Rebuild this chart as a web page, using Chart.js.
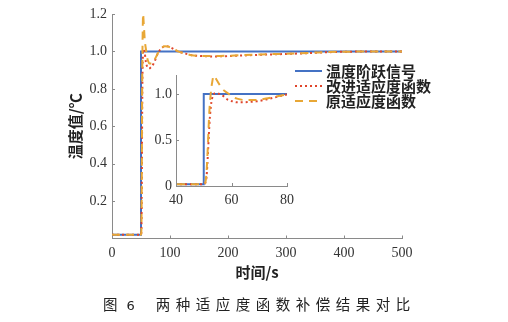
<!DOCTYPE html>
<html>
<head>
<meta charset="utf-8">
<script src="https://cdn.jsdelivr.net/npm/chart.js@4.4.1/dist/chart.umd.min.js"></script>
<style>
  html, body { margin: 0; padding: 0; background: #fff; }
  #wrap { position: relative; width: 508px; height: 322px; }
  #main { position: absolute; left: 0; top: 0; }
  #inset { position: absolute; left: 130px; top: 60px; }
  #caption { position: absolute; left: 103px; top: 293px; font: 400 14.5px "Noto Sans CJK SC"; color: #222; white-space: nowrap; }
  #caption .num { margin-left: 9px; font-family: "DejaVu Sans"; font-size: 13px; }
  #caption .rest { margin-left: 21px; letter-spacing: 5.5px; }
</style>
</head>
<body>
<div id="wrap">
  <canvas id="main" width="508" height="322"></canvas>
  <canvas id="inset" width="170" height="150"></canvas>
  <div id="caption">图<span class="num">6</span><span class="rest">两种适应度函数补偿结果对比</span></div>
</div>
<script>
// step input
const stepTime = [0, 50, 50, 500];
const stepValue = [0.02, 0.02, 1, 1];

// responses (time in s)
const time = [0, 50, 50.5, 51, 51.5, 52, 52.5, 53, 53.6, 54.5, 55.7, 56.5, 58.6, 60.4, 62, 64.6, 67, 69, 72.4, 76.6, 79, 82, 86, 91, 96, 102, 114, 125, 137, 155, 175, 200, 255, 325, 365, 420, 500];
const improved = [0.02, 0.02, 0.03, 0.1, 0.35, 0.65, 0.85, 0.95, 1.0, 1.01, 1.0, 0.99, 0.94, 0.92, 0.91, 0.91, 0.915, 0.92, 0.94, 0.97, 0.99, 1.005, 1.018, 1.028, 1.027, 1.02, 1.0, 0.99, 0.98, 0.975, 0.973, 0.975, 0.982, 0.989, 0.995, 0.999, 1.0];
const original = [0.02, 0.02, 0.03, 0.15, 0.45, 0.8, 1.0, 1.12, 1.2, 1.16, 1.1, 1.06, 1.01, 0.97, 0.95, 0.935, 0.935, 0.935, 0.95, 0.975, 0.99, 1.005, 1.02, 1.027, 1.026, 1.02, 1.0, 0.99, 0.98, 0.976, 0.975, 0.977, 0.984, 0.99, 0.996, 0.999, 1.0];

const seriesNames = ['温度阶跃信号', '改进适应度函数', '原适应度函数'];

const mainXTicks = [0, 100, 200, 300, 400, 500];
const mainYTicks = [0.2, 0.4, 0.6, 0.8, 1.0, 1.2];
const insetXTicks = [40, 60, 80];
const insetYTicks = [0, 0.5, 1.0];

const colors = ['#4472c4', '#e0452b', '#e8a736'];
const dashes = [[], [2, 3], [8, 6]];
const axisColor = '#8a8a8a';
const tickFont = { family: 'Liberation Serif', size: 14 };
const cjkBold = { family: 'Noto Sans CJK SC', size: 15, weight: 'bold' };

function makeDatasets() {
    const series = [
        stepTime.map((t, i) => ({ x: t, y: stepValue[i] })),
        time.map((t, i) => ({ x: t, y: improved[i] })),
        time.map((t, i) => ({ x: t, y: original[i] }))
    ];
    return series.map((data, i) => ({
        label: seriesNames[i],
        data,
        borderColor: colors[i],
        borderWidth: 2,
        borderDash: dashes[i],
        pointRadius: 0,
        cubicInterpolationMode: i === 0 ? 'default' : 'monotone',
        clip: i === 2 ? { top: 8, left: 0, right: 0, bottom: 0 } : undefined,
        order: 3 - i
    }));
}

// tick marks pointing into the plot area
const innerTicks = {
    id: 'innerTicks',
    afterDraw(chart) {
        const { ctx, chartArea: a, scales: { x, y } } = chart;
        ctx.save();
        ctx.strokeStyle = axisColor;
        ctx.lineWidth = 1;
        ctx.beginPath();
        x.ticks.forEach(t => {
            const px = Math.round(x.getPixelForValue(t.value)) + 0.5;
            ctx.moveTo(px, a.bottom);
            ctx.lineTo(px, a.bottom - 3);
        });
        y.ticks.forEach(t => {
            const py = Math.round(y.getPixelForValue(t.value)) + 0.5;
            ctx.moveTo(a.left, py);
            ctx.lineTo(a.left + 3, py);
        });
        ctx.stroke();
        ctx.restore();
    }
};

// legend box inside the main plot
const floatLegend = {
    id: 'floatLegend',
    afterDraw(chart) {
        const { ctx } = chart;
        ctx.save();
        ctx.font = 'bold 15px "Noto Sans CJK SC"';
        ctx.textBaseline = 'middle';
        chart.data.datasets.forEach((ds, i) => {
            const y = 71 + i * 15;
            ctx.strokeStyle = ds.borderColor;
            ctx.lineWidth = 2;
            ctx.setLineDash(ds.borderDash);
            ctx.beginPath();
            ctx.moveTo(295, y);
            ctx.lineTo(322, y);
            ctx.stroke();
            ctx.setLineDash([]);
            ctx.fillStyle = '#222';
            ctx.fillText(ds.label, 326, y);
        });
        ctx.restore();
    }
};

function axis(min, max, ticks, extra) {
    return Object.assign({
        type: 'linear',
        min, max,
        afterBuildTicks: s => { s.ticks = ticks.map(v => ({ value: v })); },
        grid: { display: false, drawTicks: false },
        border: { display: true, color: axisColor, width: 1 },
        ticks: { font: tickFont, color: '#333', padding: 6 }
    }, extra);
}

new Chart(document.getElementById('main'), {
    type: 'line',
    data: { datasets: makeDatasets() },
    options: {
        responsive: false,
        animation: false,
        layout: { padding: { top: 14, right: 106, bottom: 40, left: 0 } },
        plugins: { legend: { display: false }, tooltip: { enabled: false } },
        scales: {
            x: axis(0, 500, mainXTicks, {
                afterFit: s => { s.height = 43.5; },
                title: { display: true, text: '时间/s', font: cjkBold, color: '#222', padding: { top: 0, bottom: 1 } }
            }),
            y: axis(0, 1.2, mainYTicks, {
                afterFit: s => { s.width = 112; },
                ticks: { font: tickFont, color: '#333', padding: 5, callback: v => v.toFixed(1) },
                title: { display: true, text: '温度值/℃', font: cjkBold, color: '#222', padding: { top: 66, bottom: 0 } }
            })
        }
    },
    plugins: [innerTicks, floatLegend]
});

new Chart(document.getElementById('inset'), {
    type: 'line',
    data: { datasets: makeDatasets() },
    options: {
        responsive: false,
        animation: false,
        layout: { padding: { top: 15.6, right: 12, bottom: 0, left: 0 } },
        plugins: { legend: { display: false }, tooltip: { enabled: false } },
        scales: {
            x: axis(40, 80, insetXTicks, { afterFit: s => { s.height = 24; } }),
            y: axis(0, 1.2, insetYTicks, {
                afterFit: s => { s.width = 46; },
                ticks: { font: tickFont, color: '#333', padding: 4, callback: v => (v === 0 ? '0' : v.toFixed(1)) }
            })
        }
    },
    plugins: [innerTicks]
});
</script>
</body>
</html>
